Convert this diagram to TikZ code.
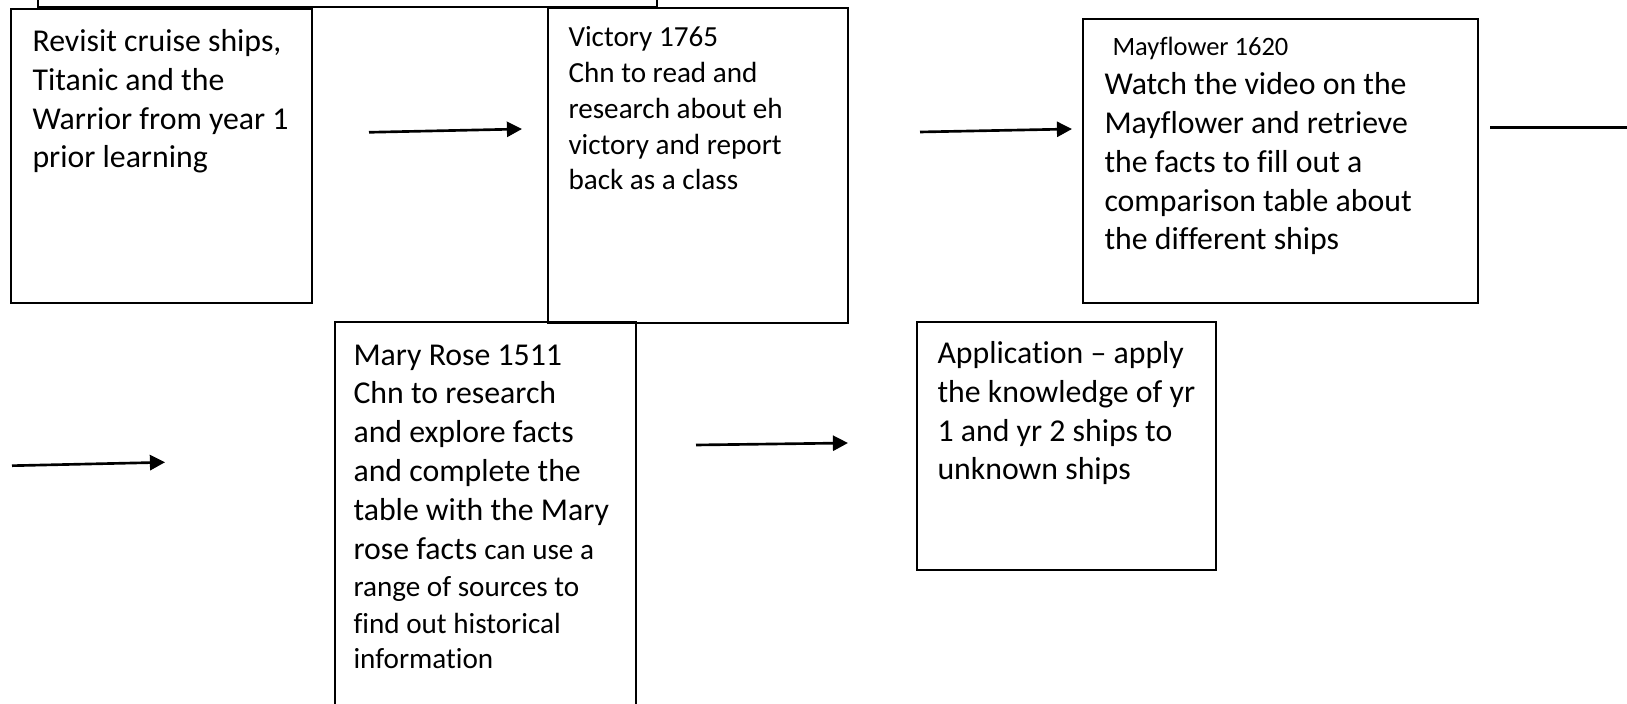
\documentclass[tikz,border=0pt]{standalone}
\usepackage{fontspec}
\setmainfont[Ligatures=NoCommon]{Carlito}
\usetikzlibrary{arrows.meta}

\newcommand{\smalltext}{\fontsize{11}{13.45}\selectfont}

\begin{document}
\begin{tikzpicture}[x=0.3774pt, y=-0.3774pt,
    card/.style={draw, line width=0.6pt, anchor=north west, inner sep=0pt, outer sep=0pt},
    words/.style={anchor=base west, inner sep=0pt, align=left, font=\fontsize{12}{14.65}\selectfont},
    flow/.style={line width=1pt, -{Triangle[length=5.7pt, width=5.7pt]}}]
    \useasboundingbox (0,0) rectangle (1627,704);
    \clip (0,0) rectangle (1627,704);
    \fill[white] (0,0) rectangle (1627,704);

    % the boxes
    \node[card, minimum width=233.6pt, minimum height=25.3pt] (prev) at (38,-60) {};
    \node[card, minimum width=113.6pt, minimum height=111pt] (revisit) at (11,9) {};
    \node[card, minimum width=113.2pt, minimum height=118.9pt] (victory) at (548,8) {};
    \node[card, minimum width=149.1pt, minimum height=107.2pt] (mayflower) at (1083,19) {};
    \node[card, minimum width=113.6pt, minimum height=162.3pt] (maryrose) at (335,322) {};
    \node[card, minimum width=112.8pt, minimum height=93.6pt] (application) at (917,322) {};

    % their texts (base = last line)
    \node[words] (revisittxt) at (32,168) {Revisit cruise ships,\\ Titanic and the\\ Warrior from year 1\\ prior learning};
    \node[words, font=\fontsize{11}{13.5}\selectfont] (victorytxt) at (568,190)
        {Victory 1765\\ Chn to read and\\ research about eh\\ victory and report\\ back as a class};
    \node[words, font=\fontsize{10}{12}\selectfont] (mayflowerhead) at (1112,56) {Mayflower 1620};
    \node[words] (mayflowertxt) at (1104,250) {Watch the video on the\\ Mayflower and retrieve\\ the facts to fill out a\\ comparison table about\\ the different ships};
    \node[words] (maryrosetxt) at (353,669) {Mary Rose 1511\\ Chn to research\\ and explore facts\\ and complete the\\ table with the Mary\\
        rose facts {\smalltext can use a}\\[-0.6pt] {\smalltext range of sources to}\\[-0.8pt]
        {\smalltext find out historical}\\[-1.1pt] {\smalltext information}};
    \node[words] (applicationtxt) at (937,480) {Application -- apply\\ the knowledge of yr\\ 1 and yr 2 ships to\\ unknown ships};

    % arrows between the boxes
    \coordinate (go1) at (369,132.3);
    \coordinate (go1tip) at (522,129);
    \coordinate (go2) at (920,132);
    \coordinate (go2tip) at (1072,129);
    \coordinate (go3) at (1490,127.3);
    \coordinate (go3end) at (1640,127.3);
    \coordinate (go4) at (12,465.7);
    \coordinate (go4tip) at (165,462.3);
    \coordinate (go5) at (696,445);
    \coordinate (go5tip) at (848,443);
    \draw[flow] (go1) -- (go1tip);
    \draw[flow] (go2) -- (go2tip);
    \draw[line width=1pt] (go3) -- (go3end);
    \draw[flow] (go4) -- (go4tip);
    \draw[flow] (go5) -- (go5tip);
\end{tikzpicture}
\end{document}
